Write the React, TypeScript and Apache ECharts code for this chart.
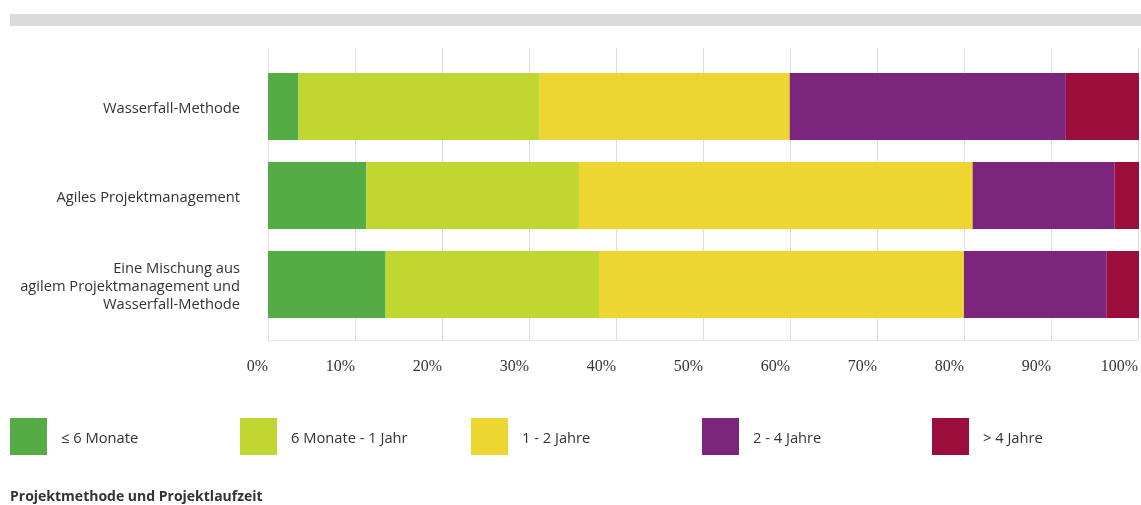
import React, { useEffect, useRef } from "react";
import * as echarts from "echarts";

const categories = [
  "Wasserfall-Methode",
  "Agiles Projektmanagement",
  "Eine Mischung aus\nagilem Projektmanagement und\nWasserfall-Methode",
];
const seriesNames = ["≤ 6 Monate", "6 Monate - 1 Jahr", "1 - 2 Jahre", "2 - 4 Jahre", "> 4 Jahre"];
const lt6m = [3.5, 11.3, 13.5];
const m6to1y = [27.7, 24.4, 24.5];
const y1to2 = [28.7, 45.2, 41.9];
const y2to4 = [31.7, 16.3, 16.4];
const gt4y = [8.4, 2.8, 3.7];
const seriesValues = [lt6m, m6to1y, y1to2, y2to4, gt4y];
const colors = ["#55ab44", "#bfd730", "#edd532", "#7b267c", "#9b0d3a"];
const xTicks = [0, 10, 20, 30, 40, 50, 60, 70, 80, 90, 100];
const title = "Projektmethode und Projektlaufzeit";

export default function App() {
  const ref = useRef<HTMLDivElement>(null);
  useEffect(() => {
    const chart = echarts.init(ref.current!, null, { renderer: "svg" });
    const legendLefts = [10, 240, 471, 702, 932];
    chart.setOption({
      animation: false,
      graphic: [
        { type: "rect", shape: { x: 10, y: 14, width: 1131, height: 12 }, style: { fill: "#dcdbd9" } },
        {
          type: "text",
          left: 10,
          top: 488,
          style: { text: title, font: "bold 14px 'Open Sans', sans-serif", fill: "#333" },
        },
      ],
      legend: seriesNames.map((n, i) => ({
        data: [n],
        left: legendLefts[i],
        top: 418,
        padding: 0,
        icon: "rect",
        itemWidth: 37,
        itemHeight: 37,
        selectedMode: false,
        textStyle: { fontFamily: "Open Sans", fontSize: 14.7, color: "#333", padding: [0, 0, 0, 9] },
      })),
      grid: [
        { left: 268, width: 871, top: 62, height: 267 },
        { left: 268, width: 871, top: 48, height: 292 },
      ],
      xAxis: [
        { type: "value", gridIndex: 0, min: 0, max: 100, interval: 10, show: false },
        {
          type: "value",
          gridIndex: 1,
          min: 0,
          max: 100,
          interval: 10,
          axisLine: { show: true, lineStyle: { color: "#e6e6e6" } },
          axisTick: { show: false },
          splitLine: { show: true, lineStyle: { color: "#dedede", width: 1 } },
          axisLabel: {
            formatter: (v: number) => (xTicks.includes(v) ? v + "%" : ""),
            align: "right",
            margin: 17,
            fontFamily: "Liberation Serif",
            fontSize: 16,
            color: "#333",
          },
        },
      ],
      yAxis: [
        {
          type: "category",
          gridIndex: 0,
          data: categories,
          inverse: true,
          axisLine: { show: false },
          axisTick: { show: false },
          axisLabel: {
            margin: 28,
            fontFamily: "Open Sans",
            fontSize: 14.7,
            lineHeight: 18,
            color: "#333",
            align: "right",
          },
        },
        { type: "category", gridIndex: 1, data: [""], show: false },
      ],
      series: seriesNames.map((n, i) => ({
        name: n,
        type: "bar",
        stack: "total",
        xAxisIndex: 0,
        yAxisIndex: 0,
        barWidth: 67,
        itemStyle: { color: colors[i] },
        data: seriesValues[i],
      })),
    });
    return () => chart.dispose();
  }, []);
  return <div ref={ref} style={{ position: "fixed", left: 0, top: 0, width: 1141, height: 505 }} />;
}
